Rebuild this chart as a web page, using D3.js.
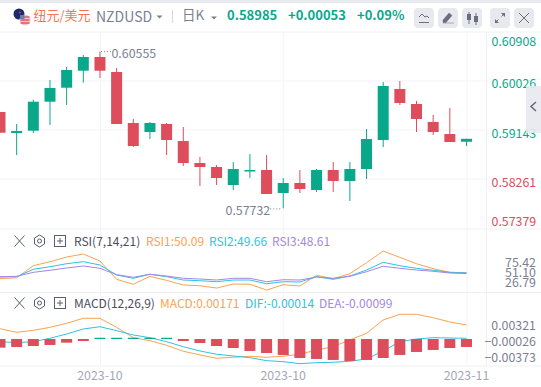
<!DOCTYPE html>
<html>
<head>
<meta charset="utf-8">
<script src="https://cdn.jsdelivr.net/npm/d3@7"></script>
<style>
  html, body { margin: 0; padding: 0; background: #fff; }
  svg { display: block; }
  text { font-family: "Noto Sans CJK SC", "Noto Sans", sans-serif; }
</style>
</head>
<body>
<svg id="chart"></svg>
<script>
// NZDUSD daily candles with RSI and MACD panes

const opens  = [0.59468, 0.59089, 0.59131, 0.59653, 0.59905, 0.60211, 0.60458, 0.60188, 0.59270, 0.59107, 0.59252, 0.58945, 0.58549, 0.58477, 0.58153, 0.58396, 0.58423, 0.58009, 0.58189, 0.58063, 0.58423, 0.58225, 0.58441, 0.58963, 0.59882, 0.59612, 0.59288, 0.59071, 0.58932];
const closes = [0.59095, 0.59125, 0.59653, 0.59900, 0.60224, 0.60458, 0.60211, 0.59252, 0.58855, 0.59270, 0.58963, 0.58549, 0.58477, 0.58279, 0.58441, 0.58423, 0.57991, 0.58189, 0.58081, 0.58423, 0.58225, 0.58441, 0.58981, 0.59936, 0.59630, 0.59342, 0.59107, 0.58927, 0.58985];
const highs  = [0.59468, 0.59252, 0.59689, 0.60044, 0.60278, 0.60494, 0.60555, 0.60260, 0.59342, 0.59288, 0.59270, 0.59198, 0.58657, 0.58513, 0.58567, 0.58711, 0.58693, 0.58279, 0.58423, 0.58441, 0.58567, 0.58567, 0.59161, 0.60008, 0.60026, 0.59666, 0.59414, 0.59540, 0.58985];
const lows   = [0.59095, 0.58693, 0.59089, 0.59234, 0.59594, 0.59995, 0.60080, 0.59252, 0.58837, 0.58981, 0.58693, 0.58495, 0.58135, 0.58153, 0.58063, 0.58279, 0.57991, 0.57732, 0.58009, 0.58027, 0.58027, 0.57865, 0.58261, 0.58837, 0.59594, 0.59107, 0.59053, 0.58927, 0.58855];

const rsi1 = [40.6, 42.1, 61, 67.2, 74.6, 79.3, 68.3, 39.6, 31.8, 44.3, 38, 30.7, 29.6, 25.9, 32.2, 31.8, 22.8, 31.1, 29.1, 45.9, 40.6, 48.4, 65.7, 84, 74.1, 64.1, 56.3, 50.6, 50.09];
const rsi2 = [43.2, 43.7, 55.3, 59.4, 64.1, 67.3, 62.1, 46.4, 41.2, 47.5, 43.7, 38.5, 37.4, 35.9, 38.5, 38.5, 32.7, 35.9, 35.4, 43.7, 39.6, 44.8, 54.2, 66.3, 61, 56.9, 53.8, 50.6, 49.66];
const rsi3 = [43.7, 44.3, 50.6, 53.8, 57.4, 60.5, 56.9, 46.9, 42.8, 47.5, 44.8, 41.2, 40.1, 38.5, 41.2, 41.2, 35.9, 39, 38.5, 43.2, 41.2, 44.3, 51.6, 60, 56.9, 54.2, 52.2, 49.5, 48.61];

const macdLine = [0.0022, 0.00143, 0.00186, 0.0025, 0.00336, 0.00443, 0.00443, 0.0025, 0.00028, -0.00036, -0.00135, -0.00263, -0.00342, -0.00413, -0.00392, -0.0037, -0.00392, -0.0037, -0.00327, -0.00235, -0.00165, -0.00021, 0.00122, 0.00407, 0.00529, 0.00529, 0.00456, 0.00364, 0.003];
const difLine  = [-0.00058, -0.00079, -0.00058, 0.00015, 0.00107, 0.00214, 0.00263, 0.00178, 0.00086, 0.00028, -0.00058, -0.00165, -0.00257, -0.00327, -0.00364, -0.004, -0.00464, -0.00486, -0.00529, -0.00507, -0.00499, -0.00477, -0.00428, -0.00257, -0.00058, 0, 0.00028, 0.00021, 0.00015];
const macdBars = [-0.00186, -0.00171, -0.0015, -0.00128, -0.00079, -0.00043, 0.00026, 0.00026, 0.00026, 0.00026, 0.00026, -0.00043, -0.00086, -0.0015, -0.00193, -0.00257, -0.003, -0.00342, -0.00407, -0.00428, -0.00449, -0.00471, -0.00449, -0.00407, -0.00342, -0.00278, -0.00235, -0.00193, -0.00171];

const priceTicks = [0.60908, 0.60026, 0.59143, 0.58261, 0.57379];
const rsiTicks = ["75.42", "51.10", "26.79"];
const macdTicks = [0.00321, -0.00026, -0.00373];
const timeTicks = [6, 17, 28];
const timeLabels = ["2023-10", "2023-10", "2023-11"];

const W = 541, H = 387;
const AXIS_X = 486.5;
const UP = "#0aa88b", DOWN = "#dd4d5c";
const GRID = "#f3f4f8";
const ORANGE = "#fba250", CYAN = "#2cc4e0", PURPLE = "#a585ea";
const GREY = "#7b7f92";

const svg = d3.select("#chart").attr("width", W).attr("height", H);

const x = d3.scaleLinear().domain([0, 28]).range([0, 466.5]);
const yPrice = d3.scaleLinear().domain([0.57379, 0.60908]).range([228, 32]);
const yRsi = d3.scaleLinear().domain([51.1, 75.42]).range([272, 256.5]);
const yMacd = d3.scaleLinear().domain([0.00321, -0.00373]).range([324, 356.4]);
const idx = d3.range(opens.length);

// ---- top strip + grid ----
svg.append("rect").attr("width", W).attr("height", 3).attr("fill", "#e8eaef");

const hLines = [32, 229, 292.5, 366];
svg.selectAll(".hframe").data(hLines).join("line")
  .attr("x1", 0).attr("x2", W)
  .attr("y1", d => d).attr("y2", d => d)
  .attr("stroke", "#eff0f4");

svg.selectAll(".hgrid").data(priceTicks.slice(1, 4)).join("line")
  .attr("x1", 0).attr("x2", AXIS_X)
  .attr("y1", d => yPrice(d)).attr("y2", d => yPrice(d))
  .attr("stroke", GRID);

svg.selectAll(".vgrid").data(timeTicks).join("line")
  .attr("x1", d => x(d) + 0.5).attr("x2", d => x(d) + 0.5)
  .attr("y1", 32).attr("y2", 366)
  .attr("stroke", GRID);

svg.append("line")
  .attr("x1", AXIS_X).attr("x2", AXIS_X)
  .attr("y1", 32).attr("y2", 366)
  .attr("stroke", "#eff0f4");

// ---- candles ----
const candles = svg.append("g");
idx.forEach(i => {
  const up = closes[i] >= opens[i];
  const color = up ? UP : DOWN;
  candles.append("line")
    .attr("x1", x(i)).attr("x2", x(i))
    .attr("y1", yPrice(highs[i])).attr("y2", yPrice(lows[i]))
    .attr("stroke", color).attr("stroke-width", 1);
  const top = yPrice(Math.max(opens[i], closes[i]));
  const bot = yPrice(Math.min(opens[i], closes[i]));
  candles.append("rect")
    .attr("x", x(i) - 5.5).attr("width", 11)
    .attr("y", top).attr("height", Math.max(bot - top, 1.5))
    .attr("fill", color);
});

// high / low callouts
svg.append("text")
  .attr("x", x(6) + 11.5).attr("y", yPrice(0.60555) + 6)
  .attr("font-size", 12.4).attr("fill", GREY).text("0.60555");
svg.append("text")
  .attr("x", x(17) - 13).attr("y", yPrice(0.57732) + 7).attr("text-anchor", "end")
  .attr("font-size", 12.4).attr("fill", GREY).text("0.57732");
svg.append("line")
  .attr("x1", x(6) + 1).attr("x2", x(6) + 11)
  .attr("y1", yPrice(0.60555)).attr("y2", yPrice(0.60555))
  .attr("stroke", GREY).attr("stroke-dasharray", "1 2");
svg.append("line")
  .attr("x1", x(17) - 13).attr("x2", x(17) - 1)
  .attr("y1", yPrice(0.57732) + 0.5).attr("y2", yPrice(0.57732) + 0.5)
  .attr("stroke", GREY).attr("stroke-dasharray", "1 2");

// ---- price axis ----
const priceOffset = [10, 3, 3.5, 4, -6];
const priceAxis = svg.append("g")
  .attr("transform", `translate(${AXIS_X + 5},0)`)
  .call(d3.axisRight(yPrice).tickValues(priceTicks).tickSize(0).tickPadding(0).tickFormat(d3.format(".5f")));
priceAxis.select(".domain").remove();
priceAxis.selectAll("text")
  .attr("font-family", null).attr("font-size", 12.4)
  .attr("fill", (d, i) => i < 3 ? UP : DOWN)
  .attr("y", (d, i) => priceOffset[i]);

// ---- RSI pane ----
const rsiLine = d3.line().x((d, i) => x(i)).y(d => yRsi(d));
[[rsi1, ORANGE], [rsi2, CYAN], [rsi3, PURPLE]].forEach(([s, c]) => {
  svg.append("path").datum(s)
    .attr("fill", "none").attr("stroke", c).attr("stroke-width", 1)
    .attr("d", rsiLine);
});
const yRsiLabel = d3.scalePoint().domain(rsiTicks).range([263, 283]);
svg.selectAll(".rsiTick").data(rsiTicks).join("text")
  .attr("x", 536).attr("y", d => yRsiLabel(d)).attr("dy", "0.36em")
  .attr("text-anchor", "end").attr("font-size", 12.4).attr("fill", GREY)
  .text(d => d);

// ---- MACD pane ----
const macdPath = d3.line().x((d, i) => x(i)).y(d => yMacd(d));
svg.append("path").datum(macdLine)
  .attr("fill", "none").attr("stroke", ORANGE).attr("stroke-width", 1).attr("d", macdPath);
svg.append("path").datum(difLine)
  .attr("fill", "none").attr("stroke", CYAN).attr("stroke-width", 1).attr("d", macdPath);
svg.selectAll(".bar").data(macdBars).join("rect")
  .attr("x", (d, i) => x(i) - 5.5).attr("width", 11)
  .attr("y", d => Math.min(yMacd(d), yMacd(0)))
  .attr("height", d => Math.abs(yMacd(d) - yMacd(0)))
  .attr("fill", d => d >= 0 ? UP : DOWN);
svg.selectAll(".macdTick").data(macdTicks).join("text")
  .attr("x", 536).attr("y", d => yMacd(d) + 1.5).attr("dy", "0.36em")
  .attr("text-anchor", "end").attr("font-size", 12.4).attr("fill", GREY)
  .text(d => d3.format(".5f")(d));

// ---- time axis ----
svg.selectAll(".timeTick").data(timeTicks).join("text")
  .attr("x", d => x(d)).attr("y", 380).attr("text-anchor", "middle")
  .attr("font-size", 12.4).attr("fill", "#a5a8b8")
  .text((d, i) => timeLabels[i]);

// ---- pane legends ----
function legend(y, items) {
  const g = svg.append("g");
  // close
  g.append("path").attr("d", `M14.5 ${y - 5.5}l10 11m0 -11l-10 11`)
    .attr("stroke", "#5a5e70").attr("fill", "none");
  // settings hexagon
  g.append("path").attr("d", `M39.5 ${y - 6}l5 3v6l-5 3l-5 -3v-6z`)
    .attr("stroke", "#5a5e70").attr("fill", "none");
  g.append("circle").attr("cx", 39.5).attr("cy", y).attr("r", 2)
    .attr("stroke", "#5a5e70").attr("fill", "none");
  // add box
  g.append("rect").attr("x", 54.5).attr("y", y - 5.5).attr("width", 11).attr("height", 11)
    .attr("stroke", "#5a5e70").attr("fill", "none");
  g.append("path").attr("d", `M60 ${y - 3}v6m-3 -3h6`).attr("stroke", "#5a5e70").attr("fill", "none");
  items.forEach(it => {
    g.append("text").attr("x", it.x).attr("y", y + 4.5)
      .attr("font-size", 12).attr("fill", it.c).text(it.t);
  });
}
legend(241, [
  { x: 74, t: "RSI(7,14,21)", c: "#4a4d5c" },
  { x: 146, t: "RSI1:50.09", c: ORANGE },
  { x: 209, t: "RSI2:49.66", c: CYAN },
  { x: 272, t: "RSI3:48.61", c: PURPLE }
]);
legend(303, [
  { x: 74, t: "MACD(12,26,9)", c: "#4a4d5c" },
  { x: 160, t: "MACD:0.00171", c: ORANGE },
  { x: 245, t: "DIF:-0.00014", c: CYAN },
  { x: 319, t: "DEA:-0.00099", c: PURPLE }
]);

// ---- header ----
const flagUs = svg.append("g");
flagUs.append("circle").attr("cx", 19).attr("cy", 14).attr("r", 5.5).attr("fill", "#1b2a6b");
flagUs.append("circle").attr("cx", 20).attr("cy", 12.5).attr("r", 1).attr("fill", "#d8394a");
flagUs.append("circle").attr("cx", 25).attr("cy", 20).attr("r", 5.5).attr("fill", "#f3c6cd");
[17, 20, 23].forEach(y => {
  flagUs.append("line").attr("x1", 20.5).attr("x2", 29.5).attr("y1", y).attr("y2", y)
    .attr("stroke", "#d8485a").attr("stroke-width", 1.3);
});
flagUs.append("rect").attr("x", 20).attr("y", 15).attr("width", 4.5).attr("height", 4).attr("fill", "#6f7aa8");

svg.append("text").attr("x", 33.5).attr("y", 20).attr("font-size", 13)
  .attr("fill", "#f5764e").text("纽元/美元");
svg.append("text").attr("x", 96).attr("y", 21.5).attr("font-size", 14)
  .attr("fill", GREY).text("NZDUSD");
svg.append("path").attr("d", "M156.5 15.5h6l-3 3z").attr("fill", GREY);
svg.append("line").attr("x1", 172.5).attr("x2", 172.5).attr("y1", 10).attr("y2", 23).attr("stroke", "#d5d8e0");
svg.append("text").attr("x", 182).attr("y", 20).attr("font-size", 13.5)
  .attr("fill", GREY).text("日K");
svg.append("path").attr("d", "M211 16.5h6l-3 3z").attr("fill", GREY);

[["0.58985", 227], ["+0.00053", 288], ["+0.09%", 357]].forEach(([t, tx]) => {
  svg.append("text").attr("x", tx).attr("y", 20).attr("font-size", 13)
    .attr("font-weight", 700).attr("fill", UP).text(t);
});

// toolbar buttons
const ICON = "#6a6d7e";
[414, 438, 462, 490, 514].forEach(bx => {
  svg.append("rect").attr("x", bx).attr("y", 8).attr("width", 20).attr("height", 20).attr("rx", 4)
    .attr("fill", "#e8e9ef");
});
svg.append("path").attr("d", "M419 17l3 -3l3 3l2 -1l2 2").attr("stroke", ICON).attr("fill", "none");
svg.append("path").attr("d", "M419 22.5h10").attr("stroke", ICON).attr("fill", "none");
svg.append("path").attr("d", "M443 20l6 -7l3 2.5l-6 7h-3zM443 23h11").attr("fill", ICON).attr("stroke", ICON).attr("stroke-width", 0.5);
svg.append("path").attr("d", "M469 12v12M476 13v12").attr("stroke", ICON);
svg.append("rect").attr("x", 467).attr("y", 14).attr("width", 4).attr("height", 6).attr("fill", ICON);
svg.append("rect").attr("x", 474).attr("y", 16).attr("width", 4).attr("height", 6).attr("fill", ICON);
svg.append("path").attr("d", "M495 23l3.5 -3.5M505 13l-3.5 3.5").attr("stroke", ICON);
svg.append("path").attr("d", "M495 19v4h4zM505 17v-4h-4z").attr("fill", ICON);
svg.append("path").attr("d", "M519 13l10 10m0 -10l-10 10").attr("stroke", ICON).attr("fill", "none");

// collapsed side tab
svg.append("rect").attr("x", 526).attr("y", 86).attr("width", 15).attr("height", 47)
  .attr("fill", "#e8e9ef").attr("opacity", 0.9);
svg.append("path").attr("d", "M536 102l-5 4.5l5 4.5").attr("stroke", "#6a6d7e").attr("stroke-width", 1.6).attr("fill", "none");
</script>
</body>
</html>
